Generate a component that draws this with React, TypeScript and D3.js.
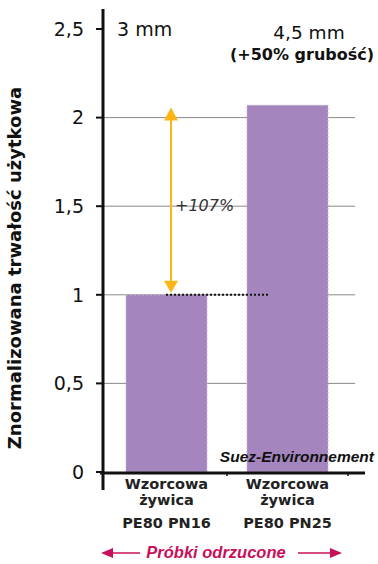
import React from "react";
import * as d3 from "d3";

const categories = [
  ["Wzorcowa", "żywica", "PE80 PN16"],
  ["Wzorcowa", "żywica", "PE80 PN25"],
];
const values = [1.0, 2.07];
const yTicks = [0, 0.5, 1, 1.5, 2, 2.5];
const yTickLabels = ["0", "0,5", "1", "1,5", "2", "2,5"];
const yTitle = "Znormalizowana trwałość użytkowa";
const thickLabels = ["3 mm", "4,5 mm"];
const thickNote = "(+50% grubość)";
const increaseLabel = "+107%";
const sourceLabel = "Suez-Environnement";
const footerLabel = "Próbki odrzucone";

export default function App() {
  const W = 378, H = 564;
  const y = d3.scaleLinear().domain([0, 2.5]).range([472, 29]);
  const x = d3.scaleBand().domain(["0", "1"]).range([106, 348]).paddingInner(0.33).paddingOuter(0.165);
  const barColor = "#A585BD";
  const font = "DejaVu Sans, Verdana, sans-serif";
  const arial = "Liberation Sans, Arial, sans-serif";
  const axisX = 103;
  const bw = x.bandwidth();
  const arrowX = 171;
  const orange = "#FDB515";
  const pink = "#C8105A";
  return (
    <svg width={W} height={H} style={{ position: "absolute", left: 0, top: 0, background: "#fff" }}>
      {/* gridlines */}
      {yTicks.filter((t) => t > 0 && t < 2.5).map((t) => (
        <line key={t} x1={axisX} x2={355} y1={y(t)} y2={y(t)} stroke="#8a8a8a" strokeWidth={1} />
      ))}
      {/* bars */}
      {values.map((v, i) => {
        const bx = x(String(i))!;
        return (
          <rect key={i} x={bx} y={y(v)} width={bw} height={y(0) - y(v)} fill={barColor}
            stroke="#c9bcd3" strokeWidth={1} strokeDasharray="2,2" />
        );
      })}
      {/* dotted reference line */}
      <line x1={166} x2={268} y1={y(1)} y2={y(1)} stroke="#111" strokeWidth={2} strokeDasharray="2,2" />
      {/* arrow */}
      <line x1={arrowX} x2={arrowX} y1={y(2) + 2} y2={y(1) - 12} stroke={orange} strokeWidth={2} />
      <path d={`M${arrowX},${y(2) - 10} L${arrowX - 7},${y(2) + 3} L${arrowX + 7},${y(2) + 3} Z`} fill={orange} />
      <path d={`M${arrowX},${y(1) - 2} L${arrowX - 7},${y(1) - 14} L${arrowX + 7},${y(1) - 14} Z`} fill={orange} />
      <text x={175} y={211} fontFamily={font} fontStyle="italic" fontSize={16} fill="#333">{increaseLabel}</text>
      {/* axes */}
      <line x1={axisX} x2={axisX} y1={9} y2={490} stroke="#111" strokeWidth={3} />
      <line x1={100} x2={365} y1={y(0) + 1} y2={y(0) + 1} stroke="#111" strokeWidth={3} />
      {[227, 348].map((tx) => (
        <line key={tx} x1={tx} x2={tx} y1={y(0)} y2={y(0) + 4} stroke="#111" strokeWidth={1.5} />
      ))}
      {yTicks.map((t, i) => (
        <g key={t}>
          <line x1={96} x2={axisX} y1={y(t)} y2={y(t)} stroke="#111" strokeWidth={2} />
          <text x={84} y={y(t)} dy="0.36em" textAnchor="end" fontFamily={font} fontSize={19} fill="#111">
            {yTickLabels[i]}
          </text>
        </g>
      ))}
      {/* y title */}
      <text transform={`translate(21,268) rotate(-90)`} textAnchor="middle" fontFamily={font}
        fontWeight="bold" fontSize={18} fill="#111">{yTitle}</text>
      {/* thickness labels */}
      <text x={117} y={36} fontFamily={font} fontSize={19} fill="#111">{thickLabels[0]}</text>
      <text x={309} y={39} textAnchor="middle" fontFamily={font} fontSize={18.5} fill="#111">{thickLabels[1]}</text>
      <text x={302} y={60} textAnchor="middle" fontFamily={font} fontWeight="bold" fontSize={16} fill="#111">{thickNote}</text>
      {/* source */}
      <text x={374} y={462} textAnchor="end" fontFamily={arial} fontWeight="bold" fontStyle="italic" fontSize={15.5} fill="#111">{sourceLabel}</text>
      {/* category labels */}
      {categories.map((lines, i) => {
        const cx = x(String(i))! + bw / 2;
        return (
          <text key={i} textAnchor="middle" fontFamily={font} fontWeight="bold" fontSize={14.5} fill="#222">
            <tspan x={cx} y={489}>{lines[0]}</tspan>
            <tspan x={cx} y={505}>{lines[1]}</tspan>
            <tspan x={cx} y={528}>{lines[2]}</tspan>
          </text>
        );
      })}
      {/* footer */}
      <line x1={110} x2={140} y1={553} y2={553} stroke={pink} strokeWidth={1.5} />
      <path d="M101,553 L113,548 L113,558 Z" fill={pink} />
      <line x1={298} x2={332} y1={553} y2={553} stroke={pink} strokeWidth={1.5} />
      <path d="M342,553 L330,548 L330,558 Z" fill={pink} />
      <text x={216} y={558} textAnchor="middle" fontFamily={arial} fontWeight="bold" fontStyle="italic" fontSize={16.5} fill={pink}>{footerLabel}</text>
    </svg>
  );
}
